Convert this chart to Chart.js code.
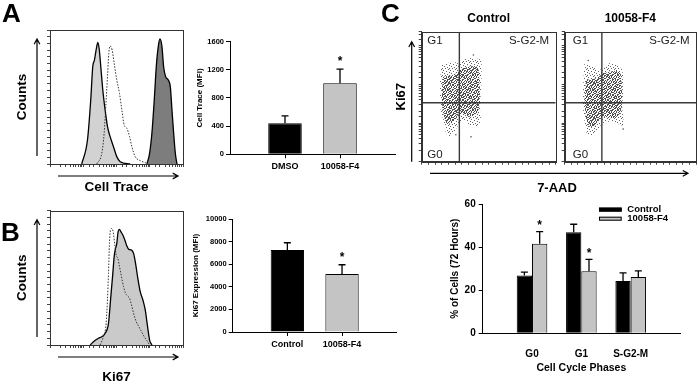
<!DOCTYPE html>
<html>
<head>
<meta charset="utf-8">
<script src="https://cdn.jsdelivr.net/npm/chart.js@4.4.1/dist/chart.umd.min.js"></script>
<style>
  html, body { margin: 0; padding: 0; background: #fff; }
  #fig { position: relative; width: 700px; height: 382px; overflow: hidden; font-family: "Liberation Sans", Arial, sans-serif; }
  #fig canvas { position: absolute; }
  .tag { position: absolute; font-weight: bold; font-size: 26px; line-height: 26px; color: #000; }
</style>
</head>
<body>
<div id="fig">
  <canvas id="histA" style="left:0;top:0" width="200" height="200"></canvas>
  <canvas id="barA" style="left:190px;top:20px" width="215" height="165"></canvas>
  <canvas id="histB" style="left:0;top:195px" width="200" height="187"></canvas>
  <canvas id="barB" style="left:190px;top:200px" width="215" height="175"></canvas>
  <canvas id="scatL" style="left:380px;top:0" width="320" height="200"></canvas>
  <canvas id="scatR" style="left:560px;top:0" width="140" height="200"></canvas>
  <canvas id="barC" style="left:430px;top:195px" width="270" height="187"></canvas>
  <div class="tag" style="left:2px;top:0">A</div>
  <div class="tag" style="left:1px;top:219px">B</div>
  <div class="tag" style="left:381px;top:0">C</div>
</div>
<script>
// --- panel A: cell trace histograms [channel, % of max] ---
const traceLight = [[9,0],[13.4,17.9],[16.8,47.8],[19.3,72.6],[21.7,77.6],[24.4,85.1],[27.4,90.8],[30,86.3],[33.7,72.6],[38.7,55.2],[45.5,40.3],[53.6,27.9],[64.4,20.4],[81.2,12.9],[102,5.5],[129,1.7],[258,0]];
const traceDotted = [[25.5,0],[36.1,8],[42.5,22.9],[48.8,47.8],[53.6,65.2],[58.7,82.6],[64.4,88.1],[74,85.1],[85.1,75.1],[102,62.7],[123,52.7],[145,40.3],[170,29.1],[205,26.6],[247,20.4],[290,12.9],[365,5.5],[517,2.5],[731,1],[922,0]];
const traceDark = [[822,0],[989,8],[1161,22.9],[1367,47.8],[1571,72.6],[1803,87.6],[2027,93.3],[2328,87.6],[2612,72.6],[3000,65.2],[3613,62.7],[4150,57.7],[4660,40.3],[5235,22.9],[5875,8],[6590,0]];

// --- panel A: MFI bars ---
const groupsA = ['DMSO', '10058-F4'];
const meanA = [440, 1010];
const errA = [105, 200];
const sigA = [false, true];

// --- panel B: Ki67 histograms ---
const ki67Filled = [[16.1,0],[20.3,2.5],[28.7,5],[36.1,6.2],[45.5,8.7],[57.4,16.1],[67.5,36],[77.5,53.3],[85.1,65.8],[91.2,70.7],[102,75.7],[112,84.4],[123,86.1],[135,84.4],[155,81.9],[178,78.2],[205,73.7],[235,71.2],[283,70.7],[326,68.2],[374,60.8],[430,50.9],[517,39.7],[622,33.5],[732,26.1],[861,13.6],[989,3.7],[1161,0]];
const ki67Dotted = [[32.2,0],[40.5,6.2],[48.8,16.1],[53.5,33.5],[57.4,53.3],[61.5,75.7],[65.9,85.6],[72.3,86.8],[79.3,84.4],[89.1,74.4],[97.7,67],[110,64.5],[123,58.3],[141,50.9],[163,43.4],[187,38.5],[215,36.5],[247,34.7],[283,29.8],[326,23.6],[392,17.4],[471,13.6],[567,9.9],[682,6.2],[822,3.2],[989,0]];

// --- panel B: MFI bars ---
const groupsB = ['Control', '10058-F4'];
const meanB = [7250, 5130];
const errB = [650, 820];
const sigB = [false, true];

// --- panel C: 7-AAD vs Ki67 clouds (outline polygons) and gates ---
const ctrlOuter = [[149,321],[187,354],[236,391],[281,354],[311,432],[361,477],[398,477],[440,432],[448,238],[443,72],[435,26.7],[440,9.9],[410,8.1],[361,8.9],[311,12],[274,8.9],[236,5.4],[199,4.6],[174,6.6],[162,12],[142,21.8],[137,48.4],[137,131],[144,238],[149,321]];
const ctrlInner = [[162,160],[236,177],[311,263],[410,290],[430,131],[425,21.8],[361,14.7],[286,17.9],[236,10.9],[187,9.9],[157,21.8],[152,72],[162,160]];
const ctrlStray = [[368,4.4],[386,582],[255,5]];
const f4Outer = [[150,354],[213,290],[263,238],[300,290],[338,354],[388,321],[438,238],[445,72],[438,26.7],[445,8.9],[388,9.9],[338,10.9],[288,9.9],[250,6.6],[213,4.9],[175,4.9],[158,8.1],[143,17.9],[138,48.4],[143,131],[150,354]];
const f4Inner = [[163,131],[238,145],[300,195],[413,215],[433,107],[428,17.9],[363,13.3],[288,14.7],[238,8.9],[188,8.1],[158,17.9],[153,59],[163,131]];
const f4Stray = [[445,7],[180,420]];
const gateX = [281, 283];
const gateY = 33.8;

// --- panel C: cell cycle bars ---
const phases = ['G0', 'G1', 'S-G2-M'];
const ctrlPct = [26.8, 46.9, 24.3];
const ctrlPctErr = [1.6, 3.7, 3.7];
const f4Pct = [41.6, 28.8, 26.1];
const f4PctErr = [5.6, 5.5, 2.9];
const sigC = [true, true, false];

const FONT = '"Liberation Sans", Arial, sans-serif';
Chart.defaults.font.family = FONT;
Chart.defaults.color = '#000';
Chart.defaults.animation = false;
Chart.defaults.responsive = false;
Chart.defaults.devicePixelRatio = 1;
Chart.defaults.plugins.legend.display = false;
Chart.defaults.plugins.tooltip.enabled = false;

const bold = (size) => ({ size, weight: 'bold' });
const xy = (pts) => pts.map(([x, y]) => ({ x, y }));
const pin = (prop, val) => (s) => { s[prop] = val; };

function arrow(ctx, x1, y1, x2, y2) {
  const ang = Math.atan2(y2 - y1, x2 - x1), h = 6;
  ctx.beginPath();
  ctx.moveTo(x1, y1); ctx.lineTo(x2, y2);
  ctx.moveTo(x2 - h * Math.cos(ang - 0.5), y2 - h * Math.sin(ang - 0.5));
  ctx.lineTo(x2, y2);
  ctx.lineTo(x2 - h * Math.cos(ang + 0.5), y2 - h * Math.sin(ang + 0.5));
  ctx.stroke();
}

// draws a box round the plot area plus any extra decoration
function frame(extra) {
  return {
    id: 'frame',
    afterDraw(chart) {
      const { ctx, chartArea: a } = chart;
      ctx.save();
      ctx.strokeStyle = '#333';
      ctx.lineWidth = 1;
      ctx.strokeRect(Math.round(a.left) + 0.5, Math.round(a.top) + 0.5, Math.round(a.right - a.left), Math.round(a.bottom - a.top));
      ctx.strokeStyle = '#000';
      ctx.fillStyle = '#000';
      ctx.lineWidth = 1.2;
      if (extra) extra(ctx, a);
      ctx.restore();
    }
  };
}

function errorBars(starGap) {
  return {
    id: 'errorBars',
    afterDatasetsDraw(chart) {
      const { ctx } = chart;
      const yScale = chart.scales.y;
      ctx.save();
      ctx.strokeStyle = '#000';
      ctx.fillStyle = '#000';
      ctx.lineWidth = 1.3;
      ctx.font = 'bold 12px ' + FONT;
      ctx.textAlign = 'center';
      chart.data.datasets.forEach((ds, di) => {
        chart.getDatasetMeta(di).data.forEach((bar, i) => {
          const top = yScale.getPixelForValue(ds.data[i].y + ds.errors[i]);
          ctx.beginPath();
          ctx.moveTo(bar.x, bar.y); ctx.lineTo(bar.x, top);
          ctx.moveTo(bar.x - 3.5, top); ctx.lineTo(bar.x + 3.5, top);
          ctx.stroke();
          if (ds.stars[i]) ctx.fillText('*', bar.x, top - starGap);
        });
      });
      ctx.restore();
    }
  };
}

function histChart(id, datasets, xTitle, padTop, xHeight, titlePad) {
  return new Chart(document.getElementById(id), {
    type: 'line',
    data: { datasets },
    options: {
      layout: { padding: { top: padTop, right: 17, left: 0, bottom: 0 } },
      elements: { point: { radius: 0 }, line: { cubicInterpolationMode: 'monotone' } },
      scales: {
        x: {
          type: 'logarithmic', min: 1, max: 10000,
          ticks: { display: false },
          grid: { drawOnChartArea: false, tickLength: 3, color: '#444' },
          border: { color: '#333' },
          title: { display: true, text: xTitle, font: bold(13.5), padding: { top: 0, bottom: titlePad } },
          afterFit: pin('height', xHeight)
        },
        y: {
          min: 0, max: 100,
          ticks: { display: false, stepSize: 5 },
          grid: { drawOnChartArea: false, tickLength: 3, color: '#444' },
          border: { color: '#333' },
          title: { display: true, text: 'Counts', font: bold(13.5), padding: { top: 14.6, bottom: 0 } },
          afterFit: pin('width', 50)
        }
      }
    },
    plugins: [frame((ctx, a) => {
      arrow(ctx, a.left - 13, a.bottom - 8, a.left - 13, a.top + 9);
      arrow(ctx, a.left + 8, a.bottom + 12, a.right - 5, a.bottom + 12);
    })]
  });
}

const solidLine = (pts, fillColor) => ({ data: xy(pts), borderColor: '#000', borderWidth: 1.3, backgroundColor: fillColor, fill: 'origin' });
const dottedLine = (pts) => ({ data: xy(pts), borderColor: '#333', borderWidth: 1, borderDash: [1.5, 1.5], fill: false });

histChart('histA', [dottedLine(traceDotted), solidLine(traceLight, '#d2d2d2'), solidLine(traceDark, '#7d7d7d')], 'Cell Trace', 30, 36, 4.6);
histChart('histB', [dottedLine(ki67Dotted), solidLine(ki67Filled, '#cacaca')], 'Ki67', 15.7, 37, -3);

function mfiChart(id, groups, means, errs, sig, yMax, yStep, yTitle, pad, yWidth, xHeight, titlePad) {
  return new Chart(document.getElementById(id), {
    type: 'bar',
    data: {
      datasets: [{
        data: groups.map((g, i) => ({ x: i + 1, y: means[i] })),
        errors: errs, stars: sig,
        backgroundColor: ['#000', '#c4c4c4'],
        borderColor: '#000', borderWidth: 1,
        categoryPercentage: 0.61, barPercentage: 1
      }]
    },
    options: {
      layout: { padding: pad },
      scales: {
        x: {
          type: 'linear', min: 0, max: groups.length + 1, offset: false,
          afterBuildTicks: (s) => { s.ticks = s.ticks.filter((t) => t.value >= 1 && t.value <= groups.length); },
          ticks: { stepSize: 1, callback: (v) => groups[v - 1], font: bold(9), padding: 3, maxRotation: 0, autoSkip: false },
          grid: { offset: false, drawOnChartArea: false, tickLength: 4, color: '#000' },
          border: { color: '#000' },
          afterFit: pin('height', xHeight)
        },
        y: {
          min: 0, max: yMax,
          ticks: { stepSize: yStep, font: bold(7.5), padding: 2, callback: (v) => String(v) },
          grid: { drawOnChartArea: false, tickLength: 4, color: '#000' },
          border: { color: '#000' },
          title: { display: true, text: yTitle, font: bold(8), padding: { top: titlePad, bottom: 0 } },
          afterFit: pin('width', yWidth)
        }
      }
    },
    plugins: [errorBars(4.2)]
  });
}

mfiChart('barA', groupsA, meanA, errA, sigA, 1600, 400, 'Cell Trace (MFI)', { top: 21.7, right: 10, left: 0, bottom: 0 }, 40, 30.7, 5);
mfiChart('barB', groupsB, meanB, errB, sigB, 10000, 2000, 'Ki67 Expression (MFI)', { top: 19, right: 8.3, left: 0, bottom: 0 }, 42.7, 43, 1.2);

// stipple tiles used to shade the dot clouds
function stipple(size, dots, color) {
  const c = document.createElement('canvas');
  c.width = c.height = size;
  const g = c.getContext('2d');
  g.fillStyle = color;
  dots.forEach(([x, y]) => g.fillRect(x, y, 1, 1));
  return g.createPattern(c, 'repeat');
}
const sparseDots = stipple(7, [[0,0],[3,1],[6,2],[1,3],[4,4],[2,5],[5,6],[6,5]], '#606060');
const denseDots = stipple(5, [[0,0],[2,0],[4,1],[1,2],[3,2],[0,3],[2,4],[4,3],[3,4],[1,1]], '#4a4a4a');

function flowChart(id, title, outer, inner, stray, gx, pad, yWidth, yTitle, labelInset, extra) {
  const gateLine = (pts) => ({ data: xy(pts), borderColor: '#3a3a3a', borderWidth: 1.4, fill: false, pointRadius: 0 });
  return new Chart(document.getElementById(id), {
    type: 'line',
    data: {
      datasets: [
        gateLine([[gx, 1], [gx, 2340]]),
        gateLine([[0, gateY], [1000, gateY]]),
        { data: xy(stray), showLine: false, pointRadius: 0.8, pointBackgroundColor: '#555', pointBorderWidth: 0 },
        { data: xy(inner), fill: 'shape', backgroundColor: denseDots, borderColor: 'rgba(0,0,0,0)', pointRadius: 0, tension: 0.3 },
        { data: xy(outer), fill: 'shape', backgroundColor: sparseDots, borderColor: 'rgba(0,0,0,0)', pointRadius: 0, tension: 0.3 }
      ]
    },
    options: {
      layout: { padding: pad },
      plugins: {
        title: { display: true, text: title, fullSize: false, font: bold(12), color: '#000', padding: { top: 11, bottom: 6.3 } }
      },
      scales: {
        x: {
          type: 'linear', min: 0, max: 1000,
          ticks: { display: false, stepSize: 50 },
          grid: { drawOnChartArea: false, tickLength: 3, color: '#444' },
          border: { color: '#333' },
          afterFit: pin('height', 38.3)
        },
        y: {
          type: 'logarithmic', min: 1, max: 2340,
          ticks: { display: false },
          grid: { drawOnChartArea: false, tickLength: 3, color: '#444' },
          border: { color: '#333' },
          title: { display: !!yTitle, text: yTitle, font: bold(13), padding: { top: 13.9, bottom: 0 } },
          afterFit: pin('width', yWidth)
        }
      }
    },
    plugins: [frame((ctx, a) => {
      ctx.font = '11.5px ' + FONT;
      ctx.fillStyle = '#222';
      ctx.textBaseline = 'middle';
      ctx.textAlign = 'left';
      ctx.fillText('G1', a.left + labelInset, a.top + 9.5);
      ctx.fillText('G0', a.left + labelInset, a.bottom - 7);
      ctx.textAlign = 'right';
      ctx.fillText('S-G2-M', a.right - 6.5, a.top + 9.5);
      if (extra) extra(ctx, a);
    })]
  });
}

flowChart('scatL', 'Control', ctrlOuter, ctrlInner, ctrlStray, gateX[0],
  { top: 0, right: 144.3, left: 0, bottom: 0 }, 41.7, 'Ki67', 5.6, (ctx, a) => {
    ctx.strokeStyle = '#000';
    ctx.fillStyle = '#000';
    arrow(ctx, a.left - 10, a.bottom, a.left - 10, a.top + 10);
    arrow(ctx, a.left + 8.3, a.bottom + 11.6, a.right + 132.3, a.bottom + 11.6);
    ctx.font = 'bold 13px ' + FONT;
    ctx.textAlign = 'center';
    ctx.fillText('7-AAD', a.right + 1.3, a.bottom + 26.3);
  });
flowChart('scatR', '10058-F4', f4Outer, f4Inner, f4Stray, gateX[1],
  { top: 0, right: 1.7, left: 0, bottom: 0 }, 4.7, '', 8);

const phaseLegend = {
  id: 'phaseLegend',
  afterDraw(chart) {
    const { ctx, chartArea: a } = chart;
    ctx.save();
    ctx.font = 'bold 9.5px ' + FONT;
    ctx.textBaseline = 'middle';
    ctx.textAlign = 'left';
    chart.data.datasets.forEach((ds, i) => {
      const x = a.right - 81, y = a.top + 5.6 + i * 9.1;
      ctx.fillStyle = ds.backgroundColor;
      ctx.fillRect(x, y - 2, 22.7, 4);
      ctx.strokeStyle = '#000';
      ctx.lineWidth = 1;
      ctx.strokeRect(x + 0.5, y - 1.5, 21.7, 3);
      ctx.fillStyle = '#000';
      ctx.fillText(ds.label, x + 28.3, y);
    });
    ctx.restore();
  }
};

new Chart(document.getElementById('barC'), {
  type: 'bar',
  data: {
    datasets: [
      { label: 'Control', data: phases.map((p, i) => ({ x: i + 1, y: ctrlPct[i] })), errors: ctrlPctErr, stars: phases.map(() => false),
        backgroundColor: '#000', borderColor: '#000', borderWidth: 1, categoryPercentage: 0.62, barPercentage: 1 },
      { label: '10058-F4', data: phases.map((p, i) => ({ x: i + 1, y: f4Pct[i] })), errors: f4PctErr, stars: sigC,
        backgroundColor: '#c4c4c4', borderColor: '#000', borderWidth: 1, categoryPercentage: 0.62, barPercentage: 1 }
    ]
  },
  options: {
    layout: { padding: { top: 7.7, right: 20, left: 0, bottom: 0 } },
    scales: {
      x: {
        type: 'linear', min: 0, max: phases.length + 1, offset: false,
        afterBuildTicks: (s) => { s.ticks = s.ticks.filter((t) => t.value >= 1 && t.value <= phases.length); },
        ticks: { stepSize: 1, callback: (v) => phases[v - 1], font: bold(10), padding: 15, maxRotation: 0, autoSkip: false },
        grid: { offset: false, drawOnChartArea: false, drawTicks: false },
        border: { color: '#000' },
        title: { display: true, text: 'Cell Cycle Phases', font: bold(10.5), padding: { top: 0, bottom: 7.4 } },
        afterFit: pin('height', 48.7)
      },
      y: {
        min: 0, max: 60,
        ticks: { stepSize: 20, font: bold(10), padding: 3 },
        grid: { drawOnChartArea: false, tickLength: 4, color: '#000' },
        border: { color: '#000' },
        title: { display: true, text: '% of Cells (72 Hours)', font: bold(10), padding: { top: 19, bottom: 0 } },
        afterFit: pin('width', 52.7)
      }
    }
  },
  plugins: [errorBars(2.2), phaseLegend]
});
</script>
</body>
</html>
